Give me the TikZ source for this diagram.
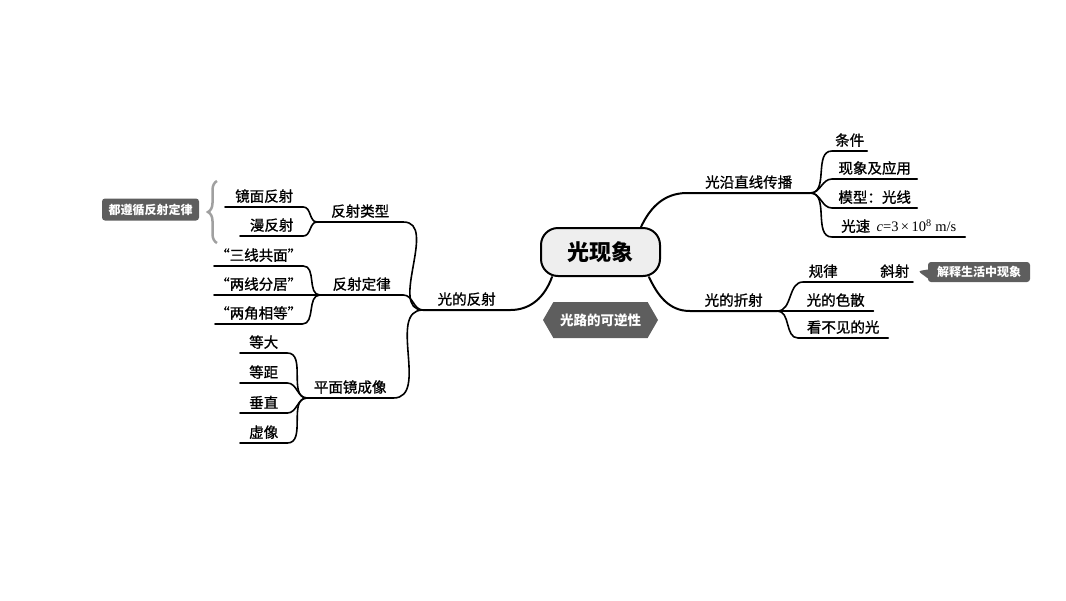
\documentclass[tikz,border=0pt]{standalone}
\usepackage{fontspec}
\setmainfont{Liberation Serif}
\newfontfamily\cjk{Noto Sans CJK SC}[FakeBold=1]
\newfontfamily\cjkb{Noto Sans CJK SC}
\usepackage{tikz}
\usetikzlibrary{positioning,shapes.symbols,shapes.callouts,decorations.pathreplacing}
\definecolor{rootfill}{RGB}{238,238,238}
\definecolor{notefill}{RGB}{94,94,94}
\definecolor{bracecolor}{RGB}{160,160,160}
\tikzset{
    root/.style={rectangle, draw, line width=2pt, fill=rootfill, rounded corners=17pt, minimum width=119pt, minimum height=48pt, inner sep=0pt, font=\cjkb\bfseries\fontsize{22}{24}\selectfont},
    topic/.style={anchor=south west, inner xsep=0pt, inner ysep=4pt, font=\cjk\fontsize{14.5}{16}\selectfont},
    leaf/.style={topic},
    trunk/.style={line width=2pt, line cap=round},
    branch/.style={line width=1.6pt, line cap=round},
    to left/.style={out=180, in=0},
    to right/.style={out=0, in=180},
    note/.style={rounded corners=3pt, fill=notefill, text=white, inner sep=0pt, font=\cjkb\bfseries\fontsize{12}{14}\selectfont},
    hex note/.style={signal, signal to=west and east, signal pointer angle=120, fill=notefill, text=white, inner sep=0pt, minimum width=115pt, minimum height=36pt, font=\cjkb\bfseries\fontsize{13.5}{15}\selectfont},
    brace line/.style={decorate, decoration={brace, amplitude=9pt}, draw=bracecolor, line width=2.5pt}
}

\begin{document}
\begin{tikzpicture}[x=1pt, y=1pt]
    \useasboundingbox (0,0) rectangle (1066,-600);

    % Root node in the middle
    \node[root] (ctr) at (600.5,-252) {光现象};
    \node[hex note] (kn) at (600.5,-320) {光路的可逆性};

    % First level - left and right
    \node[topic, minimum width=87] (fs) at (423,-310) {光的反射};
    \node[topic, minimum width=123] (zx) at (687,-193) {光沿直线传播};
    \node[topic, minimum width=87] (zs) at (690,-311) {光的折射};

    % Second level under the reflection branch
    \node[topic, minimum width=86] (lx) at (317,-222) {反射类型};
    \node[topic, minimum width=83] (dl) at (320,-295) {反射定律};
    \node[topic, minimum width=86] (pm) at (307,-398) {平面镜成像};

    % Leaves of the reflection branch
    \node[leaf, minimum width=78] (jm) at (225,-207) {镜面反射};
    \node[leaf, minimum width=63] (mf) at (240,-236) {漫反射};
    \node[leaf, minimum width=89] (sx) at (214,-266) {“三线共面”};
    \node[leaf, minimum width=89] (lf) at (214,-295) {“两线分居”};
    \node[leaf, minimum width=82] (lj) at (215,-324) {“两角相等”};
    \node[leaf, minimum width=47] (dd) at (240,-353) {等大};
    \node[leaf, minimum width=47] (dj) at (240,-383) {等距};
    \node[leaf, minimum width=47] (cz) at (240,-413) {垂直};
    \node[leaf, minimum width=47] (xx) at (240,-443) {虚像};

    % Leaves on the right side
    \node[leaf, minimum width=35] (tj) at (832,-151) {条件};
    \node[leaf, minimum width=85] (xy) at (832,-179) {现象及应用};
    \node[leaf, minimum width=85] (mx) at (832,-208) {模型：光线};
    \node[leaf, minimum width=133] (gs) at (832,-237) {光速\ \ {\rmfamily\fontsize{14.5}{16}\selectfont\textit{c}=3\,×\,10\textsuperscript{8} m/s}};
    \node[leaf, minimum width=40] (gl) at (803,-282) {规律};
    \node[leaf, anchor=south east, minimum width=36] (xs) at (913,-282) {斜射};
    \node[leaf, minimum width=75] (sz) at (798,-311) {光的色散};
    \node[leaf, minimum width=90] (kb) at (798,-338) {看不见的光};

    % Side notes
    \node[note, minimum width=97pt, minimum height=22pt] (fl) at (150.5,-209.5) {都遵循反射定律};
    \node[note, rectangle callout, callout absolute pointer={([xshift=5pt]xs.east)}, callout pointer width=9pt, minimum width=102pt, minimum height=20pt] (jx) at (979,-272) {解释生活中现象};
    \coordinate (bt) at (217,-181);
    \coordinate (bb) at (217,-243);
    \draw[brace line] (bb) -- (bt);

    % Trunk connectors from the root
    \draw[trunk] ([xshift=12pt]ctr.south west) to[out=250, in=0] (fs.south east) -- (fs.south west);
    \draw[trunk] ([xshift=-20pt]ctr.north east) to[out=65, in=180] (zx.south west) -- (zx.south east);
    \draw[trunk] ([xshift=-12pt]ctr.south east) to[out=-65, in=180] (zs.south west) -- (zs.south east);

    % Left connectors
    \draw[branch] (fs.south west) to[to left] (lx.south east) -- (lx.south west);
    \draw[branch] (fs.south west) to[to left] (dl.south east) -- (dl.south west);
    \draw[branch] (fs.south west) to[to left] (pm.south east) -- (pm.south west);
    \draw[branch] (lx.south west) to[to left] (jm.south east) -- (jm.south west);
    \draw[branch] (lx.south west) to[to left] (mf.south east) -- (mf.south west);
    \draw[branch] (dl.south west) to[to left] (sx.south east) -- (sx.south west);
    \draw[branch] (dl.south west) -- (lf.south east) -- (lf.south west);
    \draw[branch] (dl.south west) to[to left] (lj.south east) -- (lj.south west);
    \draw[branch] (pm.south west) to[to left] (dd.south east) -- (dd.south west);
    \draw[branch] (pm.south west) to[to left] (dj.south east) -- (dj.south west);
    \draw[branch] (pm.south west) to[to left] (cz.south east) -- (cz.south west);
    \draw[branch] (pm.south west) to[to left] (xx.south east) -- (xx.south west);

    % Right connectors
    \draw[branch] (zx.south east) to[to right] (tj.south west) -- (tj.south east);
    \draw[branch] (zx.south east) to[to right] (xy.south west) -- (xy.south east);
    \draw[branch] (zx.south east) to[to right] (mx.south west) -- (mx.south east);
    \draw[branch] (zx.south east) to[to right] (gs.south west) -- (gs.south east);
    \draw[branch] (zs.south east) to[to right] (gl.south west) -- (xs.south east);
    \draw[branch] (zs.south east) to[to right] (sz.south west) -- (sz.south east);
    \draw[branch] (zs.south east) to[to right] (kb.south west) -- (kb.south east);
\end{tikzpicture}
\end{document}
